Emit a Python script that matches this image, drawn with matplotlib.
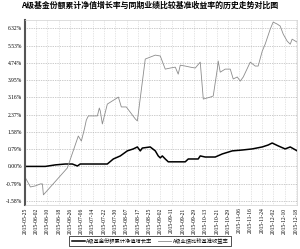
import numpy as np
import matplotlib
matplotlib.use("Agg")
import matplotlib.pyplot as plt

plt.rcParams["font.family"] = ["Noto Sans CJK SC", "DejaVu Sans"]
plt.rcParams["axes.unicode_minus"] = False

# 日期刻度
dates = ['2015-05-25', '2015-06-02', '2015-06-10', '2015-06-18', '2015-06-26',
         '2015-07-06', '2015-07-14', '2015-07-22', '2015-07-30', '2015-08-07',
         '2015-08-17', '2015-08-25', '2015-09-02', '2015-09-11', '2015-09-21',
         '2015-09-29', '2015-10-13', '2015-10-21', '2015-10-29', '2015-11-06',
         '2015-11-16', '2015-11-24', '2015-12-02', '2015-12-10', '2015-12-18']
yticks = [-1.58, -0.79, 0.00, 0.79, 1.58, 2.37, 3.16, 3.95, 4.74, 5.53, 6.32]

# 累计净值增长率 (%)
nav_x = [0, 1.81, 2.7, 3.58, 4.2, 4.65, 4.9, 6.68, 7.3, 7.83, 8.45, 9.07, 9.6, 9.96,
         10.22, 10.4, 11.1, 11.55, 11.81, 11.99, 12.17, 12.43, 12.7, 14.2, 14.47,
         15.35, 15.53, 15.97, 16.86, 17.48, 18.36, 19.25, 20.13, 21.02, 21.55, 21.9,
         22.43, 23.05, 23.5, 24.12]
nav_y = [0, 0, 0.07, 0.11, 0.11, 0.02, 0.11, 0.11, 0.11, 0.34, 0.48, 0.71, 0.80, 0.89,
         0.71, 0.84, 0.89, 0.71, 0.48, 0.39, 0.48, 0.34, 0.21, 0.21, 0.34,
         0.34, 0.48, 0.43, 0.43, 0.57, 0.71, 0.75, 0.80, 0.89, 0.98, 1.07,
         0.94, 0.80, 0.89, 0.71]

# 业绩比较基准收益率 (%)
bm_x = [0, 0.49, 0.93, 1.37, 1.55, 1.64, 3.76, 4.73, 5.0, 5.27, 5.44, 5.62, 6.42, 6.59,
        6.68, 6.86, 7.3, 8.28, 8.54, 8.98, 9.78, 9.96, 10.66, 11.1, 11.55, 11.99,
        12.43, 12.88, 13.32, 13.58, 13.76, 14.2, 14.65, 15.09, 15.53, 15.8, 16.42,
        16.68, 17.04, 17.12, 17.3, 17.74, 18.19, 18.45, 18.81, 19.07, 19.34, 19.96,
        20.4, 20.66, 21.02, 21.28, 21.73, 21.99, 22.35, 22.61, 22.88, 23.23, 23.5,
        23.67, 24.12]
bm_y = [-0.48, -0.94, -0.89, -0.80, -0.80, -1.30, -0.07, 1.39, 1.16, 1.71, 2.12, 2.31,
        2.31, 2.67, 2.53, 1.94, 2.85, 3.17, 2.72, 2.72, 2.17, 2.08, 4.91, 5.0, 5.09,
        5.05, 4.45, 4.50, 4.54, 4.22, 4.63, 4.59, 4.54, 4.50, 4.77, 3.08, 3.17,
        3.22, 4.45, 4.82, 4.31, 4.45, 4.45, 4.0, 4.09, 3.90, 4.09, 4.77,
        4.59, 4.59, 5.27, 5.59, 6.28, 6.60, 6.51, 6.42, 6.05, 5.73, 5.59,
        5.82, 5.68]

fig = plt.figure(figsize=(3.0, 2.49), dpi=100)
ax = fig.add_axes([0.083, 0.178, 0.907, 0.742])

ax.plot(nav_x, nav_y, color='black', lw=1.1, label='A级基金份额累计净值增长率')
ax.plot(bm_x, bm_y, color='#8c8c8c', lw=0.6, label='A级业绩比较基准收益率')

ax.set_xlim(0, 24.1)
ax.set_ylim(-1.75, 6.7)
ax.set_xticks(range(len(dates)))
ax.set_xticklabels(dates, rotation=90, fontsize=4, family='Liberation Serif')
ax.set_yticks(yticks)
ax.set_yticklabels(['%.2f%%' % v for v in yticks], fontsize=4, family='Liberation Serif')
ax.tick_params(length=0, pad=2)

ax.grid(axis='y', color='#9a9a9a', ls=(0, (1, 1.5)), lw=0.5)
ax.grid(axis='x', color='#cccccc', ls=(0, (1, 1.5)), lw=0.5)
for s in ['top', 'bottom', 'right']:
    ax.spines[s].set_color('#d0d0d0')
    ax.spines[s].set_linewidth(0.5)
ax.spines['left'].set_color('#555555')
ax.spines['left'].set_linewidth(1.5)

fig.suptitle('A级基金份额累计净值增长率与同期业绩比较基准收益率的历史走势对比图',
             fontsize=5.7, fontweight='bold', y=0.995)
leg = fig.legend(loc='lower center', bbox_to_anchor=(0.5, 0.0), ncol=2, fontsize=3.8,
                 frameon=True, fancybox=False, handlelength=2.5, columnspacing=1.0,
                 borderpad=0.4, handletextpad=0.3)
leg.get_frame().set_edgecolor('black')
leg.get_frame().set_linewidth(0.6)

fig.savefig('out.png', dpi=100)
